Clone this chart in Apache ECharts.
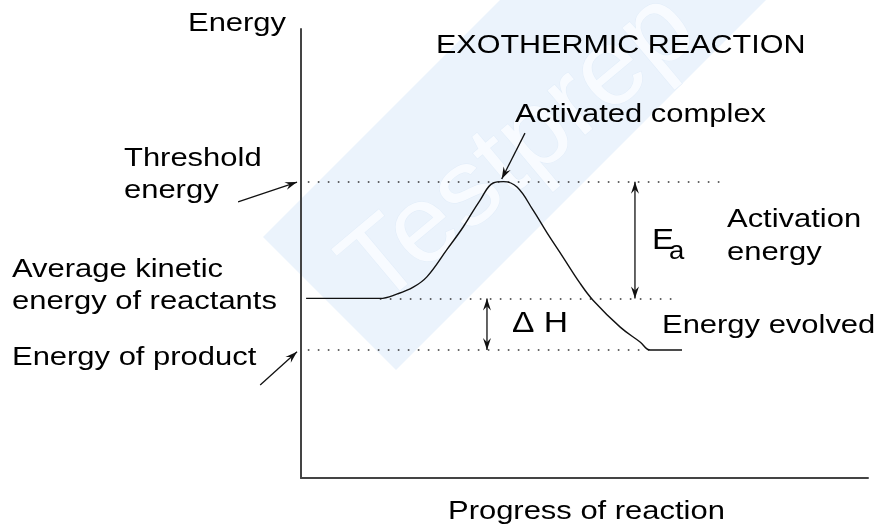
<!DOCTYPE html>
<html>
<head>
<meta charset="utf-8">
<script src="https://cdn.jsdelivr.net/npm/echarts@6/dist/echarts.min.js"></script>
<style>
html, body { margin: 0; padding: 0; background: #fff; }
#main { width: 880px; height: 527px; }
</style>
</head>
<body>
<div id="main"></div>
<script>
// energy levels (arbitrary units, y axis runs 0..100)
var thresholdLevel = 66
var reactantLevel = 40
var productLevel = 28.5

// reaction path, x = progress of reaction (0..100)
var pathX = [0.9, 13.9, 17, 19.8, 22.2, 25.7, 28.6, 31.6, 33.9, 35.7, 38.1, 40.9, 43.4, 46.2, 49.2, 51.5, 56.3, 59.8, 61.6, 67.2]
var pathY = [40, 40, 41, 42.5, 44.8, 50.8, 55.9, 61.9, 65.7, 66, 64.8, 59.7, 54.6, 49.2, 43.4, 39.6, 33.6, 30.3, 28.5, 28.5]

// dotted guide lines [from x, to x]
var thresholdSpan = [1.2, 74.3]
var reactantSpan = [13.9, 66.8]
var productSpan = [1.2, 61.6]

// arrows [tail, head] in data units
var eaArrow = [[58.9, reactantLevel], [58.9, thresholdLevel]]
var dhArrow = [[32.8, productLevel], [32.8, reactantLevel]]
var complexArrow = [[39.5, 76.8], [35.4, 66.6]]
var thresholdArrow = [[-11.1, 61.5], [-0.7, 65.9]]
var productArrow = [[-7.2, 20.7], [-0.7, 28.1]]

// texts
var yName = 'Energy'
var xName = 'Progress of reaction'
var titleText = 'EXOTHERMIC REACTION'
var complexText = 'Activated complex'
var thresholdText = ['Threshold', 'energy']
var reactantText = ['Average kinetic', 'energy of reactants']
var productText = 'Energy of product'
var activationText = ['Activation', 'energy']
var evolvedText = 'Energy evolved'

var FONT = '"Liberation Sans", Arial, sans-serif'
var chart = echarts.init(document.getElementById('main'))

function hiddenAxis() {
  return {
    type: 'value',
    min: 0,
    max: 100,
    axisLine: { lineStyle: { color: '#444', width: 2 } },
    axisTick: { show: false },
    axisLabel: { show: false },
    splitLine: { show: false }
  }
}

chart.setOption({
  animation: false,
  grid: { left: 301, right: 12, top: 29, bottom: 49 },
  xAxis: hiddenAxis(),
  yAxis: hiddenAxis(),
  series: [{
    type: 'line',
    data: pathX.map(function(x, i) { return [x, pathY[i]] }),
    symbol: 'none',
    smooth: 0.4,
    lineStyle: { color: '#111', width: 1.4 },
    z: 5,
    markLine: {
      silent: true,
      symbol: 'none',
      label: { show: false },
      lineStyle: { color: '#333', width: 1.6, type: [1.6, 8.4] },
      data: [
        [{ coord: [thresholdSpan[0], thresholdLevel] }, { coord: [thresholdSpan[1], thresholdLevel] }],
        [{ coord: [reactantSpan[0], reactantLevel] }, { coord: [reactantSpan[1], reactantLevel] }],
        [{ coord: [productSpan[0], productLevel] }, { coord: [productSpan[1], productLevel] }]
      ]
    }
  }]
})

function px(p) {
  return chart.convertToPixel({ gridIndex: 0 }, p)
}

// arrow head polygon, tip at a, pointing away from b
function head(a, b) {
  var dx = a[0] - b[0]
  var dy = a[1] - b[1]
  var d = Math.sqrt(dx * dx + dy * dy)
  var ux = dx / d
  var uy = dy / d
  var len = 12
  var half = 4
  var bx = a[0] - ux * len
  var by = a[1] - uy * len
  return {
    type: 'polygon',
    z: 20,
    shape: { points: [a, [bx - uy * half, by + ux * half], [a[0] - ux * len * 0.65, a[1] - uy * len * 0.65], [bx + uy * half, by - ux * half]] },
    style: { fill: '#111' }
  }
}

function arrow(pair, both) {
  var t = px(pair[0])
  var h = px(pair[1])
  var els = [{
    type: 'line',
    z: 20,
    shape: { x1: t[0], y1: t[1], x2: h[0], y2: h[1] },
    style: { stroke: '#111', lineWidth: 1.3 }
  }, head(h, t)]
  if (both) els.push(head(t, h))
  return els
}

function label(text, x, y, size, k) {
  return {
    type: 'text',
    x: x,
    y: y,
    scaleX: k || 1.19,
    z: 20,
    style: {
      text: text,
      font: (size || 26) + 'px ' + FONT,
      fill: '#000',
      align: 'left',
      textAlign: 'left',
      verticalAlign: 'middle',
      textVerticalAlign: 'middle'
    }
  }
}

var graphics = [
  // watermark band
  {
    type: 'polygon',
    z: -10,
    silent: true,
    shape: { points: [[500, 0], [766, 0], [396, 370], [263, 237]] },
    style: { fill: '#ebf3fc' }
  },
  {
    type: 'text',
    x: 520,
    y: 150,
    rotation: 40 * Math.PI / 180,
    z: -9,
    silent: true,
    style: {
      text: 'Testprep',
      font: '110px ' + FONT,
      fill: '#f8fbff',
      stroke: '#e2edf9',
      lineWidth: 1,
      align: 'center',
      textAlign: 'center',
      verticalAlign: 'middle',
      textVerticalAlign: 'middle'
    }
  },
  label(yName, 188, 23.5),
  label(titleText, 436, 46, 25, 1.22),
  label(complexText, 515, 115),
  label(thresholdText[0], 124, 159),
  label(thresholdText[1], 124, 191),
  label(reactantText[0], 12, 270),
  label(reactantText[1], 12, 302),
  label(productText, 12, 358),
  label(activationText[0], 727, 220),
  label(activationText[1], 727, 253),
  label(evolvedText, 662, 326),
  label('E', 652, 241, 30, 1.1),
  label('a', 669, 252, 25, 1.1),
  label('\u0394 H', 512, 324, 30, 1.12),
  label(xName, 448, 512)
]

graphics = graphics
  .concat(arrow(eaArrow, true))
  .concat(arrow(dhArrow, true))
  .concat(arrow(complexArrow))
  .concat(arrow(thresholdArrow))
  .concat(arrow(productArrow))

chart.setOption({ graphic: graphics })
</script>
</body>
</html>
